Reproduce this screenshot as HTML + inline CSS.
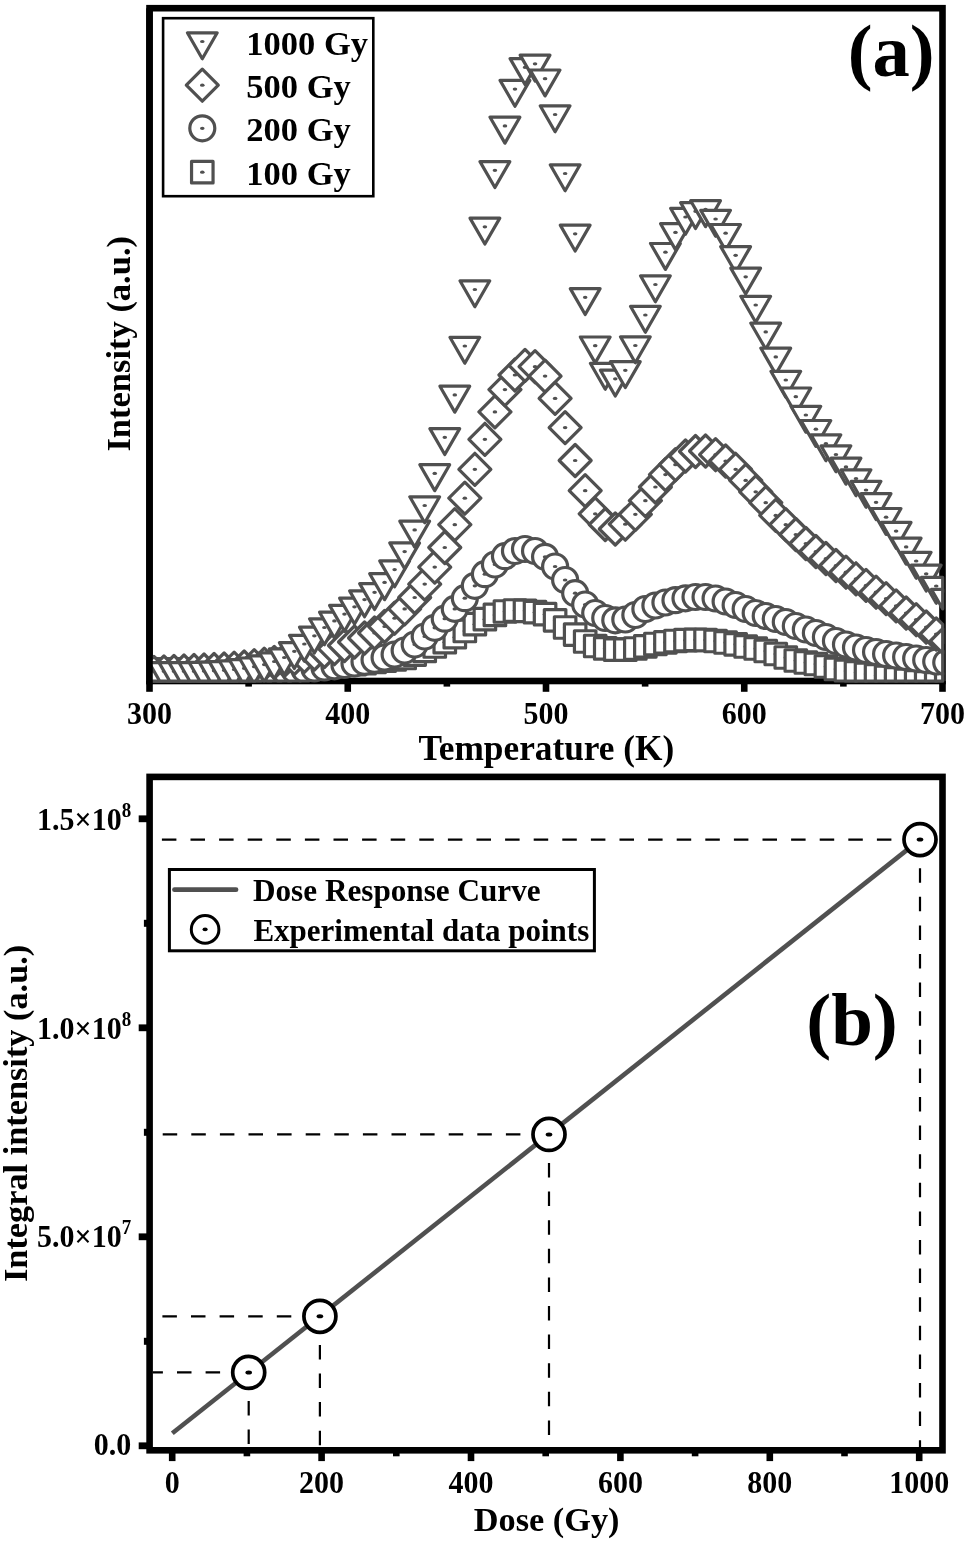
<!DOCTYPE html>
<html lang="en"><head><meta charset="utf-8"><title>TL glow curves and dose response</title>
<style>html,body{margin:0;padding:0;background:#fff}svg{display:block}text{font-family:"Liberation Serif","Times New Roman",Times,serif;font-weight:bold;fill:#000}</style></head><body>
<svg width="967" height="1544" viewBox="0 0 967 1544">
<rect width="967" height="1544" fill="#fff"/>
<defs>
<g id="mt"><path d="M-14.9 -8.7H14.9L0 17.2Z" fill="#fff" stroke="#505050" stroke-width="3.2" stroke-linejoin="round"/><ellipse rx="2.3" ry="1.6" fill="#505050"/></g>
<g id="md"><path d="M0 -16L16 0L0 16L-16 0Z" fill="#fff" stroke="#505050" stroke-width="3.2" stroke-linejoin="round"/><ellipse rx="2.3" ry="1.6" fill="#505050"/></g>
<g id="mc"><circle r="12.5" fill="#fff" stroke="#505050" stroke-width="3.2"/><ellipse rx="2.3" ry="1.6" fill="#505050"/></g>
<g id="ms"><rect x="-10.75" y="-10.75" width="21.5" height="21.5" fill="#fff" stroke="#505050" stroke-width="3.2" stroke-linejoin="round"/><ellipse rx="2.3" ry="1.6" fill="#505050"/></g>
<clipPath id="clipA"><rect x="149.5" y="8.2" width="793.8" height="673.4"/></clipPath>
</defs>
<!-- plot (a) -->
<rect x="149.5" y="8.2" width="793" height="672.8" fill="none" stroke="#000" stroke-width="6.6"/>
<rect x="146.2" y="681" width="6.6" height="10.8" fill="#000"/><rect x="344.45" y="681" width="6.6" height="10.8" fill="#000"/><rect x="542.7" y="681" width="6.6" height="10.8" fill="#000"/><rect x="740.95" y="681" width="6.6" height="10.8" fill="#000"/><rect x="939.2" y="681" width="6.6" height="10.8" fill="#000"/><rect x="245.32" y="681" width="6.6" height="5.6" fill="#000"/><rect x="443.57" y="681" width="6.6" height="5.6" fill="#000"/><rect x="641.83" y="681" width="6.6" height="5.6" fill="#000"/><rect x="840.08" y="681" width="6.6" height="5.6" fill="#000"/>
<g>
<g><path d="M149.5 680.55L149.5 659.05L164.65 659.05L164.65 680.55Z" fill="#fff" stroke="#505050" stroke-width="3.2" stroke-linejoin="round"/><ellipse cx="153.9" cy="669.8" rx="2.3" ry="1.6" fill="#505050"/><use href="#ms" x="163.93" y="669.8"/><use href="#ms" x="173.96" y="669.8"/><use href="#ms" x="183.99" y="669.8"/><use href="#ms" x="194.02" y="669.8"/><use href="#ms" x="204.05" y="669.8"/><use href="#ms" x="214.08" y="669.8"/><use href="#ms" x="224.11" y="669.8"/><use href="#ms" x="234.14" y="669.8"/><use href="#ms" x="244.17" y="669.8"/><use href="#ms" x="254.2" y="669.7"/><use href="#ms" x="264.23" y="669.5"/><use href="#ms" x="274.26" y="669.2"/><use href="#ms" x="284.29" y="668.7"/><use href="#ms" x="294.32" y="668.2"/><use href="#ms" x="304.35" y="667.6"/><use href="#ms" x="314.38" y="667"/><use href="#ms" x="324.41" y="666.4"/><use href="#ms" x="334.44" y="665.7"/><use href="#ms" x="344.47" y="665"/><use href="#ms" x="354.5" y="664.2"/><use href="#ms" x="364.53" y="663.2"/><use href="#ms" x="374.56" y="661.9"/><use href="#ms" x="384.59" y="660.7"/><use href="#ms" x="394.62" y="659.4"/><use href="#ms" x="404.65" y="658"/><use href="#ms" x="414.68" y="654.6"/><use href="#ms" x="424.71" y="650.9"/><use href="#ms" x="434.74" y="646.5"/><use href="#ms" x="444.77" y="642.2"/><use href="#ms" x="454.8" y="637.2"/><use href="#ms" x="464.83" y="631"/><use href="#ms" x="474.86" y="624.2"/><use href="#ms" x="484.89" y="619.2"/><use href="#ms" x="494.92" y="614.9"/><use href="#ms" x="504.95" y="611.5"/><use href="#ms" x="514.98" y="610.5"/><use href="#ms" x="525.01" y="610.8"/><use href="#ms" x="535.04" y="612.2"/><use href="#ms" x="545.07" y="614.2"/><use href="#ms" x="555.1" y="620.3"/><use href="#ms" x="565.13" y="627.5"/><use href="#ms" x="575.16" y="634.6"/><use href="#ms" x="585.19" y="641.5"/><use href="#ms" x="595.22" y="646"/><use href="#ms" x="605.25" y="648.4"/><use href="#ms" x="615.28" y="649.7"/><use href="#ms" x="625.31" y="649.7"/><use href="#ms" x="635.34" y="648.5"/><use href="#ms" x="645.37" y="646.3"/><use href="#ms" x="655.4" y="644"/><use href="#ms" x="665.43" y="642.3"/><use href="#ms" x="675.46" y="641"/><use href="#ms" x="685.49" y="640.2"/><use href="#ms" x="695.52" y="639.8"/><use href="#ms" x="705.55" y="640"/><use href="#ms" x="715.58" y="641"/><use href="#ms" x="725.61" y="642.5"/><use href="#ms" x="735.64" y="644.3"/><use href="#ms" x="745.67" y="646.5"/><use href="#ms" x="755.7" y="648.5"/><use href="#ms" x="765.73" y="651"/><use href="#ms" x="775.76" y="654"/><use href="#ms" x="785.79" y="657.5"/><use href="#ms" x="795.82" y="660.5"/><use href="#ms" x="805.85" y="662.5"/><use href="#ms" x="815.88" y="664"/><use href="#ms" x="825.91" y="666.5"/><use href="#ms" x="835.94" y="669"/><path d="M835.22 681L835.22 660.25L856.72 660.25L856.72 681Z" fill="#fff" stroke="#505050" stroke-width="3.2" stroke-linejoin="round"/><ellipse cx="845.97" cy="671" rx="2.3" ry="1.6" fill="#505050"/><path d="M845.25 681L845.25 661.75L866.75 661.75L866.75 681Z" fill="#fff" stroke="#505050" stroke-width="3.2" stroke-linejoin="round"/><ellipse cx="856" cy="672.5" rx="2.3" ry="1.6" fill="#505050"/><path d="M855.28 681L855.28 663.25L876.78 663.25L876.78 681Z" fill="#fff" stroke="#505050" stroke-width="3.2" stroke-linejoin="round"/><ellipse cx="866.03" cy="674" rx="2.3" ry="1.6" fill="#505050"/><path d="M865.31 681L865.31 664.75L886.81 664.75L886.81 681Z" fill="#fff" stroke="#505050" stroke-width="3.2" stroke-linejoin="round"/><ellipse cx="876.06" cy="675.5" rx="2.3" ry="1.6" fill="#505050"/><path d="M875.34 681L875.34 666.25L896.84 666.25L896.84 681Z" fill="#fff" stroke="#505050" stroke-width="3.2" stroke-linejoin="round"/><ellipse cx="886.09" cy="677" rx="2.3" ry="1.6" fill="#505050"/><path d="M885.37 681L885.37 667.75L906.87 667.75L906.87 681Z" fill="#fff" stroke="#505050" stroke-width="3.2" stroke-linejoin="round"/><ellipse cx="896.12" cy="678.5" rx="2.3" ry="1.6" fill="#505050"/><path d="M895.4 681L895.4 669.25L916.9 669.25L916.9 681Z" fill="#fff" stroke="#505050" stroke-width="3.2" stroke-linejoin="round"/><ellipse cx="906.15" cy="680" rx="2.3" ry="1.6" fill="#505050"/><path d="M905.43 681L905.43 670.75L926.93 670.75L926.93 681Z" fill="#fff" stroke="#505050" stroke-width="3.2" stroke-linejoin="round"/><path d="M915.46 681L915.46 671.75L936.96 671.75L936.96 681Z" fill="#fff" stroke="#505050" stroke-width="3.2" stroke-linejoin="round"/><path d="M925.49 681L925.49 672.75L942.7 672.75L942.7 681Z" fill="#fff" stroke="#505050" stroke-width="3.2" stroke-linejoin="round"/><path d="M935.52 681L935.52 673.25L942.7 673.25L942.7 681Z" fill="#fff" stroke="#505050" stroke-width="3.2" stroke-linejoin="round"/></g>
<g><path d="M164.73 676.85L163.82 678.21L162.74 679.44L161.51 680.52L160.79 681L149.5 681L149.5 658.92L150.66 658.53L152.27 658.21L153.9 658.1L155.53 658.21L157.14 658.53L158.68 659.05L160.15 659.77L161.51 660.68L162.74 661.76L163.82 662.99L164.73 664.35L165.45 665.82L165.97 667.36L166.29 668.97L166.4 670.6L166.29 672.23L165.97 673.84L165.45 675.38Z" fill="#fff" stroke="#505050" stroke-width="3.2" stroke-linejoin="round"/><ellipse cx="153.9" cy="670.6" rx="2.3" ry="1.6" fill="#505050"/><path d="M174.76 676.85L173.85 678.21L172.77 679.44L171.54 680.52L170.82 681L157.04 681L156.32 680.52L155.09 679.44L154.01 678.21L153.1 676.85L152.38 675.38L151.86 673.84L151.54 672.23L151.43 670.6L151.54 668.97L151.86 667.36L152.38 665.82L153.1 664.35L154.01 662.99L155.09 661.76L156.32 660.68L157.68 659.77L159.15 659.05L160.69 658.53L162.3 658.21L163.93 658.1L165.56 658.21L167.17 658.53L168.71 659.05L170.18 659.77L171.54 660.68L172.77 661.76L173.85 662.99L174.76 664.35L175.48 665.82L176 667.36L176.32 668.97L176.43 670.6L176.32 672.23L176 673.84L175.48 675.38Z" fill="#fff" stroke="#505050" stroke-width="3.2" stroke-linejoin="round"/><ellipse cx="163.93" cy="670.6" rx="2.3" ry="1.6" fill="#505050"/><path d="M184.79 676.85L183.88 678.21L182.8 679.44L181.57 680.52L180.85 681L167.07 681L166.35 680.52L165.12 679.44L164.04 678.21L163.13 676.85L162.41 675.38L161.89 673.84L161.57 672.23L161.46 670.6L161.57 668.97L161.89 667.36L162.41 665.82L163.13 664.35L164.04 662.99L165.12 661.76L166.35 660.68L167.71 659.77L169.18 659.05L170.72 658.53L172.33 658.21L173.96 658.1L175.59 658.21L177.2 658.53L178.74 659.05L180.21 659.77L181.57 660.68L182.8 661.76L183.88 662.99L184.79 664.35L185.51 665.82L186.03 667.36L186.35 668.97L186.46 670.6L186.35 672.23L186.03 673.84L185.51 675.38Z" fill="#fff" stroke="#505050" stroke-width="3.2" stroke-linejoin="round"/><ellipse cx="173.96" cy="670.6" rx="2.3" ry="1.6" fill="#505050"/><path d="M194.82 676.85L193.91 678.21L192.83 679.44L191.6 680.52L190.88 681L177.1 681L176.38 680.52L175.15 679.44L174.07 678.21L173.16 676.85L172.44 675.38L171.92 673.84L171.6 672.23L171.49 670.6L171.6 668.97L171.92 667.36L172.44 665.82L173.16 664.35L174.07 662.99L175.15 661.76L176.38 660.68L177.74 659.77L179.21 659.05L180.75 658.53L182.36 658.21L183.99 658.1L185.62 658.21L187.23 658.53L188.77 659.05L190.24 659.77L191.6 660.68L192.83 661.76L193.91 662.99L194.82 664.35L195.54 665.82L196.06 667.36L196.38 668.97L196.49 670.6L196.38 672.23L196.06 673.84L195.54 675.38Z" fill="#fff" stroke="#505050" stroke-width="3.2" stroke-linejoin="round"/><ellipse cx="183.99" cy="670.6" rx="2.3" ry="1.6" fill="#505050"/><path d="M204.85 676.85L203.94 678.21L202.86 679.44L201.63 680.52L200.91 681L187.13 681L186.41 680.52L185.18 679.44L184.1 678.21L183.19 676.85L182.47 675.38L181.95 673.84L181.63 672.23L181.52 670.6L181.63 668.97L181.95 667.36L182.47 665.82L183.19 664.35L184.1 662.99L185.18 661.76L186.41 660.68L187.77 659.77L189.24 659.05L190.78 658.53L192.39 658.21L194.02 658.1L195.65 658.21L197.26 658.53L198.8 659.05L200.27 659.77L201.63 660.68L202.86 661.76L203.94 662.99L204.85 664.35L205.57 665.82L206.09 667.36L206.41 668.97L206.52 670.6L206.41 672.23L206.09 673.84L205.57 675.38Z" fill="#fff" stroke="#505050" stroke-width="3.2" stroke-linejoin="round"/><ellipse cx="194.02" cy="670.6" rx="2.3" ry="1.6" fill="#505050"/><path d="M214.88 676.85L213.97 678.21L212.89 679.44L211.66 680.52L210.94 681L197.16 681L196.44 680.52L195.21 679.44L194.13 678.21L193.22 676.85L192.5 675.38L191.98 673.84L191.66 672.23L191.55 670.6L191.66 668.97L191.98 667.36L192.5 665.82L193.22 664.35L194.13 662.99L195.21 661.76L196.44 660.68L197.8 659.77L199.27 659.05L200.81 658.53L202.42 658.21L204.05 658.1L205.68 658.21L207.29 658.53L208.83 659.05L210.3 659.77L211.66 660.68L212.89 661.76L213.97 662.99L214.88 664.35L215.6 665.82L216.12 667.36L216.44 668.97L216.55 670.6L216.44 672.23L216.12 673.84L215.6 675.38Z" fill="#fff" stroke="#505050" stroke-width="3.2" stroke-linejoin="round"/><ellipse cx="204.05" cy="670.6" rx="2.3" ry="1.6" fill="#505050"/><path d="M224.91 676.85L224 678.21L222.92 679.44L221.69 680.52L220.97 681L207.19 681L206.47 680.52L205.24 679.44L204.16 678.21L203.25 676.85L202.53 675.38L202.01 673.84L201.69 672.23L201.58 670.6L201.69 668.97L202.01 667.36L202.53 665.82L203.25 664.35L204.16 662.99L205.24 661.76L206.47 660.68L207.83 659.77L209.3 659.05L210.84 658.53L212.45 658.21L214.08 658.1L215.71 658.21L217.32 658.53L218.86 659.05L220.33 659.77L221.69 660.68L222.92 661.76L224 662.99L224.91 664.35L225.63 665.82L226.15 667.36L226.47 668.97L226.58 670.6L226.47 672.23L226.15 673.84L225.63 675.38Z" fill="#fff" stroke="#505050" stroke-width="3.2" stroke-linejoin="round"/><ellipse cx="214.08" cy="670.6" rx="2.3" ry="1.6" fill="#505050"/><path d="M234.94 676.85L234.03 678.21L232.95 679.44L231.72 680.52L231 681L217.22 681L216.5 680.52L215.27 679.44L214.19 678.21L213.28 676.85L212.56 675.38L212.04 673.84L211.72 672.23L211.61 670.6L211.72 668.97L212.04 667.36L212.56 665.82L213.28 664.35L214.19 662.99L215.27 661.76L216.5 660.68L217.86 659.77L219.33 659.05L220.87 658.53L222.48 658.21L224.11 658.1L225.74 658.21L227.35 658.53L228.89 659.05L230.36 659.77L231.72 660.68L232.95 661.76L234.03 662.99L234.94 664.35L235.66 665.82L236.18 667.36L236.5 668.97L236.61 670.6L236.5 672.23L236.18 673.84L235.66 675.38Z" fill="#fff" stroke="#505050" stroke-width="3.2" stroke-linejoin="round"/><ellipse cx="224.11" cy="670.6" rx="2.3" ry="1.6" fill="#505050"/><path d="M244.97 676.85L244.06 678.21L242.98 679.44L241.75 680.52L241.03 681L227.25 681L226.53 680.52L225.3 679.44L224.22 678.21L223.31 676.85L222.59 675.38L222.07 673.84L221.75 672.23L221.64 670.6L221.75 668.97L222.07 667.36L222.59 665.82L223.31 664.35L224.22 662.99L225.3 661.76L226.53 660.68L227.89 659.77L229.36 659.05L230.9 658.53L232.51 658.21L234.14 658.1L235.77 658.21L237.38 658.53L238.92 659.05L240.39 659.77L241.75 660.68L242.98 661.76L244.06 662.99L244.97 664.35L245.69 665.82L246.21 667.36L246.53 668.97L246.64 670.6L246.53 672.23L246.21 673.84L245.69 675.38Z" fill="#fff" stroke="#505050" stroke-width="3.2" stroke-linejoin="round"/><ellipse cx="234.14" cy="670.6" rx="2.3" ry="1.6" fill="#505050"/><path d="M255 676.85L254.09 678.21L253.01 679.44L251.78 680.52L251.06 681L237.28 681L236.56 680.52L235.33 679.44L234.25 678.21L233.34 676.85L232.62 675.38L232.1 673.84L231.78 672.23L231.67 670.6L231.78 668.97L232.1 667.36L232.62 665.82L233.34 664.35L234.25 662.99L235.33 661.76L236.56 660.68L237.92 659.77L239.39 659.05L240.93 658.53L242.54 658.21L244.17 658.1L245.8 658.21L247.41 658.53L248.95 659.05L250.42 659.77L251.78 660.68L253.01 661.76L254.09 662.99L255 664.35L255.72 665.82L256.24 667.36L256.56 668.97L256.67 670.6L256.56 672.23L256.24 673.84L255.72 675.38Z" fill="#fff" stroke="#505050" stroke-width="3.2" stroke-linejoin="round"/><ellipse cx="244.17" cy="670.6" rx="2.3" ry="1.6" fill="#505050"/><path d="M265.03 676.85L264.12 678.21L263.04 679.44L261.81 680.52L261.09 681L247.31 681L246.59 680.52L245.36 679.44L244.28 678.21L243.37 676.85L242.65 675.38L242.13 673.84L241.81 672.23L241.7 670.6L241.81 668.97L242.13 667.36L242.65 665.82L243.37 664.35L244.28 662.99L245.36 661.76L246.59 660.68L247.95 659.77L249.42 659.05L250.96 658.53L252.57 658.21L254.2 658.1L255.83 658.21L257.44 658.53L258.98 659.05L260.45 659.77L261.81 660.68L263.04 661.76L264.12 662.99L265.03 664.35L265.75 665.82L266.27 667.36L266.59 668.97L266.7 670.6L266.59 672.23L266.27 673.84L265.75 675.38Z" fill="#fff" stroke="#505050" stroke-width="3.2" stroke-linejoin="round"/><ellipse cx="254.2" cy="670.6" rx="2.3" ry="1.6" fill="#505050"/><path d="M275.06 676.85L274.15 678.21L273.07 679.44L271.84 680.52L271.12 681L257.34 681L256.62 680.52L255.39 679.44L254.31 678.21L253.4 676.85L252.68 675.38L252.16 673.84L251.84 672.23L251.73 670.6L251.84 668.97L252.16 667.36L252.68 665.82L253.4 664.35L254.31 662.99L255.39 661.76L256.62 660.68L257.98 659.77L259.45 659.05L260.99 658.53L262.6 658.21L264.23 658.1L265.86 658.21L267.47 658.53L269.01 659.05L270.48 659.77L271.84 660.68L273.07 661.76L274.15 662.99L275.06 664.35L275.78 665.82L276.3 667.36L276.62 668.97L276.73 670.6L276.62 672.23L276.3 673.84L275.78 675.38Z" fill="#fff" stroke="#505050" stroke-width="3.2" stroke-linejoin="round"/><ellipse cx="264.23" cy="670.6" rx="2.3" ry="1.6" fill="#505050"/><path d="M285.09 676.85L284.18 678.21L283.1 679.44L281.87 680.52L281.15 681L267.37 681L266.65 680.52L265.42 679.44L264.34 678.21L263.43 676.85L262.71 675.38L262.19 673.84L261.87 672.23L261.76 670.6L261.87 668.97L262.19 667.36L262.71 665.82L263.43 664.35L264.34 662.99L265.42 661.76L266.65 660.68L268.01 659.77L269.48 659.05L271.02 658.53L272.63 658.21L274.26 658.1L275.89 658.21L277.5 658.53L279.04 659.05L280.51 659.77L281.87 660.68L283.1 661.76L284.18 662.99L285.09 664.35L285.81 665.82L286.33 667.36L286.65 668.97L286.76 670.6L286.65 672.23L286.33 673.84L285.81 675.38Z" fill="#fff" stroke="#505050" stroke-width="3.2" stroke-linejoin="round"/><ellipse cx="274.26" cy="670.6" rx="2.3" ry="1.6" fill="#505050"/><path d="M295.12 676.65L294.21 678.01L293.13 679.24L291.9 680.32L290.88 681L277.7 681L276.68 680.32L275.45 679.24L274.37 678.01L273.46 676.65L272.74 675.18L272.22 673.64L271.9 672.03L271.79 670.4L271.9 668.77L272.22 667.16L272.74 665.62L273.46 664.15L274.37 662.79L275.45 661.56L276.68 660.48L278.04 659.57L279.51 658.85L281.05 658.33L282.66 658.01L284.29 657.9L285.92 658.01L287.53 658.33L289.07 658.85L290.54 659.57L291.9 660.48L293.13 661.56L294.21 662.79L295.12 664.15L295.84 665.62L296.36 667.16L296.68 668.77L296.79 670.4L296.68 672.03L296.36 673.64L295.84 675.18Z" fill="#fff" stroke="#505050" stroke-width="3.2" stroke-linejoin="round"/><ellipse cx="284.29" cy="670.4" rx="2.3" ry="1.6" fill="#505050"/><path d="M305.15 676.25L304.24 677.61L303.16 678.84L301.93 679.92L300.57 680.83L300.22 681L288.42 681L288.07 680.83L286.71 679.92L285.48 678.84L284.4 677.61L283.49 676.25L282.77 674.78L282.25 673.24L281.93 671.63L281.82 670L281.93 668.37L282.25 666.76L282.77 665.22L283.49 663.75L284.4 662.39L285.48 661.16L286.71 660.08L288.07 659.17L289.54 658.45L291.08 657.93L292.69 657.61L294.32 657.5L295.95 657.61L297.56 657.93L299.1 658.45L300.57 659.17L301.93 660.08L303.16 661.16L304.24 662.39L305.15 663.75L305.87 665.22L306.39 666.76L306.71 668.37L306.82 670L306.71 671.63L306.39 673.24L305.87 674.78Z" fill="#fff" stroke="#505050" stroke-width="3.2" stroke-linejoin="round"/><ellipse cx="294.32" cy="670" rx="2.3" ry="1.6" fill="#505050"/><path d="M315.18 675.55L314.27 676.91L313.19 678.14L311.96 679.22L310.6 680.13L309.13 680.85L308.69 681L300.01 681L299.57 680.85L298.1 680.13L296.74 679.22L295.51 678.14L294.43 676.91L293.52 675.55L292.8 674.08L292.28 672.54L291.96 670.93L291.85 669.3L291.96 667.67L292.28 666.06L292.8 664.52L293.52 663.05L294.43 661.69L295.51 660.46L296.74 659.38L298.1 658.47L299.57 657.75L301.11 657.23L302.72 656.91L304.35 656.8L305.98 656.91L307.59 657.23L309.13 657.75L310.6 658.47L311.96 659.38L313.19 660.46L314.27 661.69L315.18 663.05L315.9 664.52L316.42 666.06L316.74 667.67L316.85 669.3L316.74 670.93L316.42 672.54L315.9 674.08Z" fill="#fff" stroke="#505050" stroke-width="3.2" stroke-linejoin="round"/><ellipse cx="304.35" cy="669.3" rx="2.3" ry="1.6" fill="#505050"/><use href="#mc" x="314.38" y="668.5"/><use href="#mc" x="324.41" y="667.5"/><use href="#mc" x="334.44" y="666.3"/><use href="#mc" x="344.47" y="665"/><use href="#mc" x="354.5" y="663.5"/><use href="#mc" x="364.53" y="661.8"/><use href="#mc" x="374.56" y="659.8"/><use href="#mc" x="384.59" y="657.5"/><use href="#mc" x="394.62" y="654.5"/><use href="#mc" x="404.65" y="650.5"/><use href="#mc" x="414.68" y="644.5"/><use href="#mc" x="424.71" y="636.5"/><use href="#mc" x="434.74" y="627.8"/><use href="#mc" x="444.77" y="618.7"/><use href="#mc" x="454.8" y="608.9"/><use href="#mc" x="464.83" y="598.2"/><use href="#mc" x="474.86" y="585.8"/><use href="#mc" x="484.89" y="574.2"/><use href="#mc" x="494.92" y="564.5"/><use href="#mc" x="504.95" y="556.2"/><use href="#mc" x="514.98" y="551"/><use href="#mc" x="525.01" y="549"/><use href="#mc" x="535.04" y="551"/><use href="#mc" x="545.07" y="556.8"/><use href="#mc" x="555.1" y="566.5"/><use href="#mc" x="565.13" y="580"/><use href="#mc" x="575.16" y="593.2"/><use href="#mc" x="585.19" y="604.5"/><use href="#mc" x="595.22" y="613"/><use href="#mc" x="605.25" y="618"/><use href="#mc" x="615.28" y="620.3"/><use href="#mc" x="625.31" y="619.5"/><use href="#mc" x="635.34" y="615"/><use href="#mc" x="645.37" y="609"/><use href="#mc" x="655.4" y="605.5"/><use href="#mc" x="665.43" y="602.5"/><use href="#mc" x="675.46" y="600.2"/><use href="#mc" x="685.49" y="598.3"/><use href="#mc" x="695.52" y="597"/><use href="#mc" x="705.55" y="597"/><use href="#mc" x="715.58" y="598.5"/><use href="#mc" x="725.61" y="601.5"/><use href="#mc" x="735.64" y="605"/><use href="#mc" x="745.67" y="609"/><use href="#mc" x="755.7" y="613"/><use href="#mc" x="765.73" y="616"/><use href="#mc" x="775.76" y="619"/><use href="#mc" x="785.79" y="622"/><use href="#mc" x="795.82" y="626"/><use href="#mc" x="805.85" y="629.5"/><use href="#mc" x="815.88" y="633"/><use href="#mc" x="825.91" y="637"/><use href="#mc" x="835.94" y="641"/><use href="#mc" x="845.97" y="644.5"/><use href="#mc" x="856" y="647.5"/><use href="#mc" x="866.03" y="650"/><use href="#mc" x="876.06" y="652"/><use href="#mc" x="886.09" y="654"/><use href="#mc" x="896.12" y="655.5"/><use href="#mc" x="906.15" y="657"/><use href="#mc" x="916.18" y="658.5"/><use href="#mc" x="926.21" y="660"/><path d="M941.02 673.05L939.48 673.57L937.87 673.89L936.24 674L934.61 673.89L933 673.57L931.46 673.05L929.99 672.33L928.63 671.42L927.4 670.34L926.32 669.11L925.41 667.75L924.69 666.28L924.17 664.74L923.85 663.13L923.74 661.5L923.85 659.87L924.17 658.26L924.69 656.72L925.41 655.25L926.32 653.89L927.4 652.66L928.63 651.58L929.99 650.67L931.46 649.95L933 649.43L934.61 649.11L936.24 649L937.87 649.11L939.48 649.43L941.02 649.95L942.49 650.67L942.7 650.81L942.7 672.19L942.49 672.33Z" fill="#fff" stroke="#505050" stroke-width="3.2" stroke-linejoin="round"/><ellipse cx="936.24" cy="661.5" rx="2.3" ry="1.6" fill="#505050"/><path d="M940.02 673.33L938.66 672.42L937.43 671.34L936.35 670.11L935.44 668.75L934.72 667.28L934.2 665.74L933.88 664.13L933.77 662.5L933.88 660.87L934.2 659.26L934.72 657.72L935.44 656.25L936.35 654.89L937.43 653.66L938.66 652.58L940.02 651.67L941.49 650.95L942.7 650.54L942.7 674.46L941.49 674.05Z" fill="#fff" stroke="#505050" stroke-width="3.2" stroke-linejoin="round"/></g>
<g><path d="M149.5 681L149.5 660.9L153.9 656.5L169.9 672.5L161.4 681Z" fill="#fff" stroke="#505050" stroke-width="3.2" stroke-linejoin="round"/><ellipse cx="153.9" cy="672.5" rx="2.3" ry="1.6" fill="#505050"/><path d="M149.5 670.43L163.93 656L179.93 672L170.93 681L156.93 681L149.5 673.57Z" fill="#fff" stroke="#505050" stroke-width="3.2" stroke-linejoin="round"/><ellipse cx="163.93" cy="672" rx="2.3" ry="1.6" fill="#505050"/><path d="M173.96 655.5L189.96 671.5L180.46 681L167.46 681L157.96 671.5Z" fill="#fff" stroke="#505050" stroke-width="3.2" stroke-linejoin="round"/><ellipse cx="173.96" cy="671.5" rx="2.3" ry="1.6" fill="#505050"/><path d="M183.99 655L199.99 671L189.99 681L177.99 681L167.99 671Z" fill="#fff" stroke="#505050" stroke-width="3.2" stroke-linejoin="round"/><ellipse cx="183.99" cy="671" rx="2.3" ry="1.6" fill="#505050"/><path d="M194.02 654.5L210.02 670.5L199.52 681L188.52 681L178.02 670.5Z" fill="#fff" stroke="#505050" stroke-width="3.2" stroke-linejoin="round"/><ellipse cx="194.02" cy="670.5" rx="2.3" ry="1.6" fill="#505050"/><path d="M204.05 654L220.05 670L209.05 681L199.05 681L188.05 670Z" fill="#fff" stroke="#505050" stroke-width="3.2" stroke-linejoin="round"/><ellipse cx="204.05" cy="670" rx="2.3" ry="1.6" fill="#505050"/><path d="M214.08 653.5L230.08 669.5L218.58 681L209.58 681L198.08 669.5Z" fill="#fff" stroke="#505050" stroke-width="3.2" stroke-linejoin="round"/><ellipse cx="214.08" cy="669.5" rx="2.3" ry="1.6" fill="#505050"/><path d="M224.11 653L240.11 669L228.11 681L220.11 681L208.11 669Z" fill="#fff" stroke="#505050" stroke-width="3.2" stroke-linejoin="round"/><ellipse cx="224.11" cy="669" rx="2.3" ry="1.6" fill="#505050"/><path d="M234.14 652.2L250.14 668.2L237.34 681L230.94 681L218.14 668.2Z" fill="#fff" stroke="#505050" stroke-width="3.2" stroke-linejoin="round"/><ellipse cx="234.14" cy="668.2" rx="2.3" ry="1.6" fill="#505050"/><path d="M244.17 651L260.17 667L246.17 681L242.17 681L228.17 667Z" fill="#fff" stroke="#505050" stroke-width="3.2" stroke-linejoin="round"/><ellipse cx="244.17" cy="667" rx="2.3" ry="1.6" fill="#505050"/><path d="M254.2 649.7L270.2 665.7L254.9 681L253.5 681L238.2 665.7Z" fill="#fff" stroke="#505050" stroke-width="3.2" stroke-linejoin="round"/><ellipse cx="254.2" cy="665.7" rx="2.3" ry="1.6" fill="#505050"/><use href="#md" x="264.23" y="664.2"/><use href="#md" x="274.26" y="662.4"/><use href="#md" x="284.29" y="660.5"/><use href="#md" x="294.32" y="658.5"/><use href="#md" x="304.35" y="656.3"/><use href="#md" x="314.38" y="654"/><use href="#md" x="324.41" y="651.5"/><use href="#md" x="334.44" y="648.7"/><use href="#md" x="344.47" y="645.5"/><use href="#md" x="354.5" y="642"/><use href="#md" x="364.53" y="638"/><use href="#md" x="374.56" y="633"/><use href="#md" x="384.59" y="626.5"/><use href="#md" x="394.62" y="618.2"/><use href="#md" x="404.65" y="608.9"/><use href="#md" x="414.68" y="597.5"/><use href="#md" x="424.71" y="584.1"/><use href="#md" x="434.74" y="567.1"/><use href="#md" x="444.77" y="547.5"/><use href="#md" x="454.8" y="524.7"/><use href="#md" x="464.83" y="498.2"/><use href="#md" x="474.86" y="469.3"/><use href="#md" x="484.89" y="439.3"/><use href="#md" x="494.92" y="411.9"/><use href="#md" x="504.95" y="389.6"/><use href="#md" x="514.98" y="375"/><use href="#md" x="525.01" y="365.4"/><use href="#md" x="535.04" y="366.7"/><use href="#md" x="545.07" y="376.1"/><use href="#md" x="555.1" y="398.4"/><use href="#md" x="565.13" y="427.6"/><use href="#md" x="575.16" y="460.5"/><use href="#md" x="585.19" y="490.7"/><use href="#md" x="595.22" y="513.8"/><use href="#md" x="605.25" y="524.5"/><use href="#md" x="615.28" y="529"/><use href="#md" x="625.31" y="524.2"/><use href="#md" x="635.34" y="514.3"/><use href="#md" x="645.37" y="500.7"/><use href="#md" x="655.4" y="487"/><use href="#md" x="665.43" y="474.6"/><use href="#md" x="675.46" y="464.7"/><use href="#md" x="685.49" y="456"/><use href="#md" x="695.52" y="451.5"/><use href="#md" x="705.55" y="451"/><use href="#md" x="715.58" y="454.7"/><use href="#md" x="725.61" y="461"/><use href="#md" x="735.64" y="469.3"/><use href="#md" x="745.67" y="480.4"/><use href="#md" x="755.7" y="491.8"/><use href="#md" x="765.73" y="502.7"/><use href="#md" x="775.76" y="515.4"/><use href="#md" x="785.79" y="524.7"/><use href="#md" x="795.82" y="534.5"/><use href="#md" x="805.85" y="543.5"/><use href="#md" x="815.88" y="551.5"/><use href="#md" x="825.91" y="558.5"/><use href="#md" x="835.94" y="565.5"/><use href="#md" x="845.97" y="572.2"/><use href="#md" x="856" y="578.8"/><use href="#md" x="866.03" y="585.4"/><use href="#md" x="876.06" y="592.2"/><use href="#md" x="886.09" y="598.6"/><use href="#md" x="896.12" y="605.9"/><use href="#md" x="906.15" y="613"/><use href="#md" x="916.18" y="619.7"/><use href="#md" x="926.21" y="627"/><path d="M920.24 634L936.24 618L942.7 624.46L942.7 643.54L936.24 650Z" fill="#fff" stroke="#505050" stroke-width="3.2" stroke-linejoin="round"/><ellipse cx="936.24" cy="634" rx="2.3" ry="1.6" fill="#505050"/><path d="M942.7 628.57L942.7 653.43L930.27 641Z" fill="#fff" stroke="#505050" stroke-width="3.2" stroke-linejoin="round"/></g>
<g><path d="M149.59 681L149.5 680.85L149.5 662.6L168.8 662.6L158.21 681Z" fill="#fff" stroke="#505050" stroke-width="3.2" stroke-linejoin="round"/><ellipse cx="153.9" cy="671.3" rx="2.3" ry="1.6" fill="#505050"/><path d="M159.62 681L149.5 663.42L149.5 662.6L178.83 662.6L168.24 681Z" fill="#fff" stroke="#505050" stroke-width="3.2" stroke-linejoin="round"/><ellipse cx="163.93" cy="671.3" rx="2.3" ry="1.6" fill="#505050"/><path d="M188.86 662.6L178.27 681L169.65 681L159.06 662.6Z" fill="#fff" stroke="#505050" stroke-width="3.2" stroke-linejoin="round"/><ellipse cx="173.96" cy="671.3" rx="2.3" ry="1.6" fill="#505050"/><path d="M198.89 662.6L188.3 681L179.68 681L169.09 662.6Z" fill="#fff" stroke="#505050" stroke-width="3.2" stroke-linejoin="round"/><ellipse cx="183.99" cy="671.3" rx="2.3" ry="1.6" fill="#505050"/><path d="M208.92 662.6L198.33 681L189.71 681L179.12 662.6Z" fill="#fff" stroke="#505050" stroke-width="3.2" stroke-linejoin="round"/><ellipse cx="194.02" cy="671.3" rx="2.3" ry="1.6" fill="#505050"/><path d="M218.95 662.4L208.25 681L199.85 681L189.15 662.4Z" fill="#fff" stroke="#505050" stroke-width="3.2" stroke-linejoin="round"/><ellipse cx="204.05" cy="671.1" rx="2.3" ry="1.6" fill="#505050"/><path d="M228.98 662.1L218.11 681L210.05 681L199.18 662.1Z" fill="#fff" stroke="#505050" stroke-width="3.2" stroke-linejoin="round"/><ellipse cx="214.08" cy="670.8" rx="2.3" ry="1.6" fill="#505050"/><path d="M239.01 661.6L227.85 681L220.37 681L209.21 661.6Z" fill="#fff" stroke="#505050" stroke-width="3.2" stroke-linejoin="round"/><ellipse cx="224.11" cy="670.3" rx="2.3" ry="1.6" fill="#505050"/><path d="M249.04 660.8L237.42 681L230.86 681L219.24 660.8Z" fill="#fff" stroke="#505050" stroke-width="3.2" stroke-linejoin="round"/><ellipse cx="234.14" cy="669.5" rx="2.3" ry="1.6" fill="#505050"/><path d="M259.07 659.6L246.76 681L241.58 681L229.27 659.6Z" fill="#fff" stroke="#505050" stroke-width="3.2" stroke-linejoin="round"/><ellipse cx="244.17" cy="668.3" rx="2.3" ry="1.6" fill="#505050"/><path d="M269.1 658L255.87 681L252.53 681L239.3 658Z" fill="#fff" stroke="#505050" stroke-width="3.2" stroke-linejoin="round"/><ellipse cx="254.2" cy="666.7" rx="2.3" ry="1.6" fill="#505050"/><path d="M279.13 655.9L264.69 681L263.77 681L249.33 655.9Z" fill="#fff" stroke="#505050" stroke-width="3.2" stroke-linejoin="round"/><ellipse cx="264.23" cy="664.6" rx="2.3" ry="1.6" fill="#505050"/><use href="#mt" x="274.26" y="661.5"/><use href="#mt" x="284.29" y="657.5"/><use href="#mt" x="294.32" y="651.3"/><use href="#mt" x="304.35" y="644"/><use href="#mt" x="314.38" y="635.8"/><use href="#mt" x="324.41" y="627.5"/><use href="#mt" x="334.44" y="620.9"/><use href="#mt" x="344.47" y="614.1"/><use href="#mt" x="354.5" y="606.8"/><use href="#mt" x="364.53" y="599.6"/><use href="#mt" x="374.56" y="592.3"/><use href="#mt" x="384.59" y="582.4"/><use href="#mt" x="394.62" y="569.6"/><use href="#mt" x="404.65" y="551.6"/><use href="#mt" x="414.68" y="529.9"/><use href="#mt" x="424.71" y="505.5"/><use href="#mt" x="434.74" y="473.4"/><use href="#mt" x="444.77" y="437.3"/><use href="#mt" x="454.8" y="394.9"/><use href="#mt" x="464.83" y="346"/><use href="#mt" x="474.86" y="289.5"/><use href="#mt" x="484.89" y="226.8"/><use href="#mt" x="494.92" y="170.3"/><use href="#mt" x="504.95" y="125.9"/><use href="#mt" x="514.98" y="89.1"/><use href="#mt" x="525.01" y="67.3"/><use href="#mt" x="535.04" y="63.8"/><use href="#mt" x="545.07" y="78.7"/><use href="#mt" x="555.1" y="114.5"/><use href="#mt" x="565.13" y="173.5"/><use href="#mt" x="575.16" y="233.8"/><use href="#mt" x="585.19" y="297.3"/><use href="#mt" x="595.22" y="345.7"/><use href="#mt" x="605.25" y="372"/><use href="#mt" x="615.28" y="378.8"/><use href="#mt" x="625.31" y="370.3"/><use href="#mt" x="635.34" y="345.5"/><use href="#mt" x="645.37" y="315"/><use href="#mt" x="655.4" y="284.5"/><use href="#mt" x="665.43" y="252.2"/><use href="#mt" x="675.46" y="232.4"/><use href="#mt" x="685.49" y="217"/><use href="#mt" x="695.52" y="211.3"/><use href="#mt" x="705.55" y="209.4"/><use href="#mt" x="715.58" y="219"/><use href="#mt" x="725.61" y="233.2"/><use href="#mt" x="735.64" y="255.3"/><use href="#mt" x="745.67" y="276.8"/><use href="#mt" x="755.7" y="305"/><use href="#mt" x="765.73" y="331.9"/><use href="#mt" x="775.76" y="356.9"/><use href="#mt" x="785.79" y="380"/><use href="#mt" x="795.82" y="396.7"/><use href="#mt" x="805.85" y="415"/><use href="#mt" x="815.88" y="429.2"/><use href="#mt" x="825.91" y="443.5"/><use href="#mt" x="835.94" y="454.5"/><use href="#mt" x="845.97" y="466.9"/><use href="#mt" x="856" y="478.5"/><use href="#mt" x="866.03" y="490"/><use href="#mt" x="876.06" y="502.3"/><use href="#mt" x="886.09" y="517.2"/><use href="#mt" x="896.12" y="531.1"/><use href="#mt" x="906.15" y="546.9"/><use href="#mt" x="916.18" y="561"/><use href="#mt" x="926.21" y="573.8"/><path d="M921.34 577.3L942.7 577.3L942.7 591.97L936.24 603.2Z" fill="#fff" stroke="#505050" stroke-width="3.2" stroke-linejoin="round"/><ellipse cx="936.24" cy="586" rx="2.3" ry="1.6" fill="#505050"/><path d="M942.7 589.3L942.7 608.99L931.37 589.3Z" fill="#fff" stroke="#505050" stroke-width="3.2" stroke-linejoin="round"/></g>
</g>
<path d="M149.5 684.3V8.2" fill="none" stroke="#000" stroke-width="6.6"/>
<rect x="163.1" y="18.2" width="210.2" height="178" fill="#fff" stroke="#000" stroke-width="2.6"/>
<use href="#mt" x="202.3" y="41.5"/><use href="#md" x="202.3" y="85.2"/><use href="#mc" x="202.3" y="128.3"/><use href="#ms" x="202.3" y="172.2"/>
<text x="246.3" y="54.7" font-size="34.5">1000 Gy</text><text x="246.3" y="97.6" font-size="34.5">500 Gy</text><text x="246.3" y="141" font-size="34.5">200 Gy</text><text x="246.3" y="184.5" font-size="34.5">100 Gy</text>
<text x="847.8" y="76.4" font-size="74.5">(a)</text>
<text transform="translate(129.9 451.6) rotate(-90)" font-size="34.5">Intensity (a.u.)</text>
<text transform="translate(149.5 723.5) scale(1 1.055)" font-size="30" text-anchor="middle">300</text><text transform="translate(347.75 723.5) scale(1 1.055)" font-size="30" text-anchor="middle">400</text><text transform="translate(546 723.5) scale(1 1.055)" font-size="30" text-anchor="middle">500</text><text transform="translate(744.25 723.5) scale(1 1.055)" font-size="30" text-anchor="middle">600</text><text transform="translate(942.5 723.5) scale(1 1.055)" font-size="30" text-anchor="middle">700</text>
<text x="546.4" y="759.7" font-size="35.3" text-anchor="middle">Temperature (K)</text>
<!-- plot (b) -->
<rect x="149.6" y="776.9" width="792.9" height="673.4" fill="none" stroke="#000" stroke-width="6.6"/>
<rect x="168.9" y="1450" width="6.6" height="11.1" fill="#000"/><rect x="318.3" y="1450" width="6.6" height="11.1" fill="#000"/><rect x="467.7" y="1450" width="6.6" height="11.1" fill="#000"/><rect x="617.1" y="1450" width="6.6" height="11.1" fill="#000"/><rect x="766.5" y="1450" width="6.6" height="11.1" fill="#000"/><rect x="915.9" y="1450" width="6.6" height="11.1" fill="#000"/><rect x="243.6" y="1450" width="6.6" height="6.3" fill="#000"/><rect x="393" y="1450" width="6.6" height="6.3" fill="#000"/><rect x="542.4" y="1450" width="6.6" height="6.3" fill="#000"/><rect x="691.8" y="1450" width="6.6" height="6.3" fill="#000"/><rect x="841.2" y="1450" width="6.6" height="6.3" fill="#000"/><rect x="138.7" y="1442.4" width="10" height="6.8" fill="#000"/><rect x="138.7" y="1233.4" width="10" height="6.8" fill="#000"/><rect x="138.7" y="1024.4" width="10" height="6.8" fill="#000"/><rect x="138.7" y="815.4" width="10" height="6.8" fill="#000"/><rect x="143.9" y="1337.8" width="5" height="7" fill="#000"/><rect x="143.9" y="1128.8" width="5" height="7" fill="#000"/><rect x="143.9" y="919.8" width="5" height="7" fill="#000"/>
<path d="M248.7 1372.4H152.8" stroke="#000" stroke-width="2.2" stroke-dasharray="14.5 14.1" fill="none"/><path d="M248.7 1372.4V1447" stroke="#000" stroke-width="2.2" stroke-dasharray="14.5 14.1" fill="none"/><path d="M319.9 1316.3H152.8" stroke="#000" stroke-width="2.2" stroke-dasharray="14.5 14.1" fill="none"/><path d="M319.9 1316.3V1447" stroke="#000" stroke-width="2.2" stroke-dasharray="14.5 14.1" fill="none"/><path d="M549 1134.4H152.8" stroke="#000" stroke-width="2.2" stroke-dasharray="14.5 14.1" fill="none"/><path d="M549 1134.4V1447" stroke="#000" stroke-width="2.2" stroke-dasharray="14.5 14.1" fill="none"/><path d="M920 839.6H152.8" stroke="#000" stroke-width="2.2" stroke-dasharray="14.5 14.1" fill="none"/><path d="M920 839.6V1447" stroke="#000" stroke-width="2.2" stroke-dasharray="14.5 14.1" fill="none"/>
<path d="M172.3 1433.3L920 839.6" stroke="#505050" stroke-width="4.6" fill="none"/>
<circle cx="248.7" cy="1372.4" r="16" fill="#fff" stroke="#000" stroke-width="3.7"/><ellipse cx="248.7" cy="1372.4" rx="3.3" ry="2" fill="#000"/><circle cx="319.9" cy="1316.3" r="16" fill="#fff" stroke="#000" stroke-width="3.7"/><ellipse cx="319.9" cy="1316.3" rx="3.3" ry="2" fill="#000"/><circle cx="549" cy="1134.4" r="16" fill="#fff" stroke="#000" stroke-width="3.7"/><ellipse cx="549" cy="1134.4" rx="3.3" ry="2" fill="#000"/><circle cx="920" cy="839.6" r="16" fill="#fff" stroke="#000" stroke-width="3.7"/><ellipse cx="920" cy="839.6" rx="3.3" ry="2" fill="#000"/>
<rect x="169.4" y="869.5" width="425" height="81.3" fill="#fff" stroke="#000" stroke-width="3"/>
<path d="M174.5 889.7H236" stroke="#505050" stroke-width="4.8" stroke-linecap="round" fill="none"/>
<circle cx="205.1" cy="929.4" r="13.8" fill="#fff" stroke="#000" stroke-width="3"/><ellipse cx="205.1" cy="929.4" rx="2.6" ry="1.8" fill="#000"/>
<text x="253" y="901.4" font-size="31.2">Dose Response Curve</text>
<text x="253.4" y="940.6" font-size="31">Experimental data points</text>
<text x="806.2" y="1045.4" font-size="75">(b)</text>
<text transform="translate(131.2 830.3) scale(1 1.055)" font-size="30" text-anchor="end">1.5×10<tspan font-size="19" dy="-12.4">8</tspan></text><text transform="translate(131.2 1039) scale(1 1.055)" font-size="30" text-anchor="end">1.0×10<tspan font-size="19" dy="-12.4">8</tspan></text><text transform="translate(131.2 1247) scale(1 1.055)" font-size="30" text-anchor="end">5.0×10<tspan font-size="19" dy="-12.4">7</tspan></text><text transform="translate(131.2 1455.3) scale(1 1.055)" font-size="30" text-anchor="end">0.0</text>
<text transform="translate(27.2 1282) rotate(-90)" font-size="34.3">Integral intensity (a.u.)</text>
<text transform="translate(172.2 1492.9) scale(1 1.055)" font-size="30" text-anchor="middle">0</text><text transform="translate(321.6 1492.9) scale(1 1.055)" font-size="30" text-anchor="middle">200</text><text transform="translate(471 1492.9) scale(1 1.055)" font-size="30" text-anchor="middle">400</text><text transform="translate(620.4 1492.9) scale(1 1.055)" font-size="30" text-anchor="middle">600</text><text transform="translate(769.8 1492.9) scale(1 1.055)" font-size="30" text-anchor="middle">800</text><text transform="translate(919.2 1492.9) scale(1 1.055)" font-size="30" text-anchor="middle">1000</text>
<text x="546.6" y="1530.9" font-size="34.3" text-anchor="middle">Dose (Gy)</text>
</svg>
</body></html>
